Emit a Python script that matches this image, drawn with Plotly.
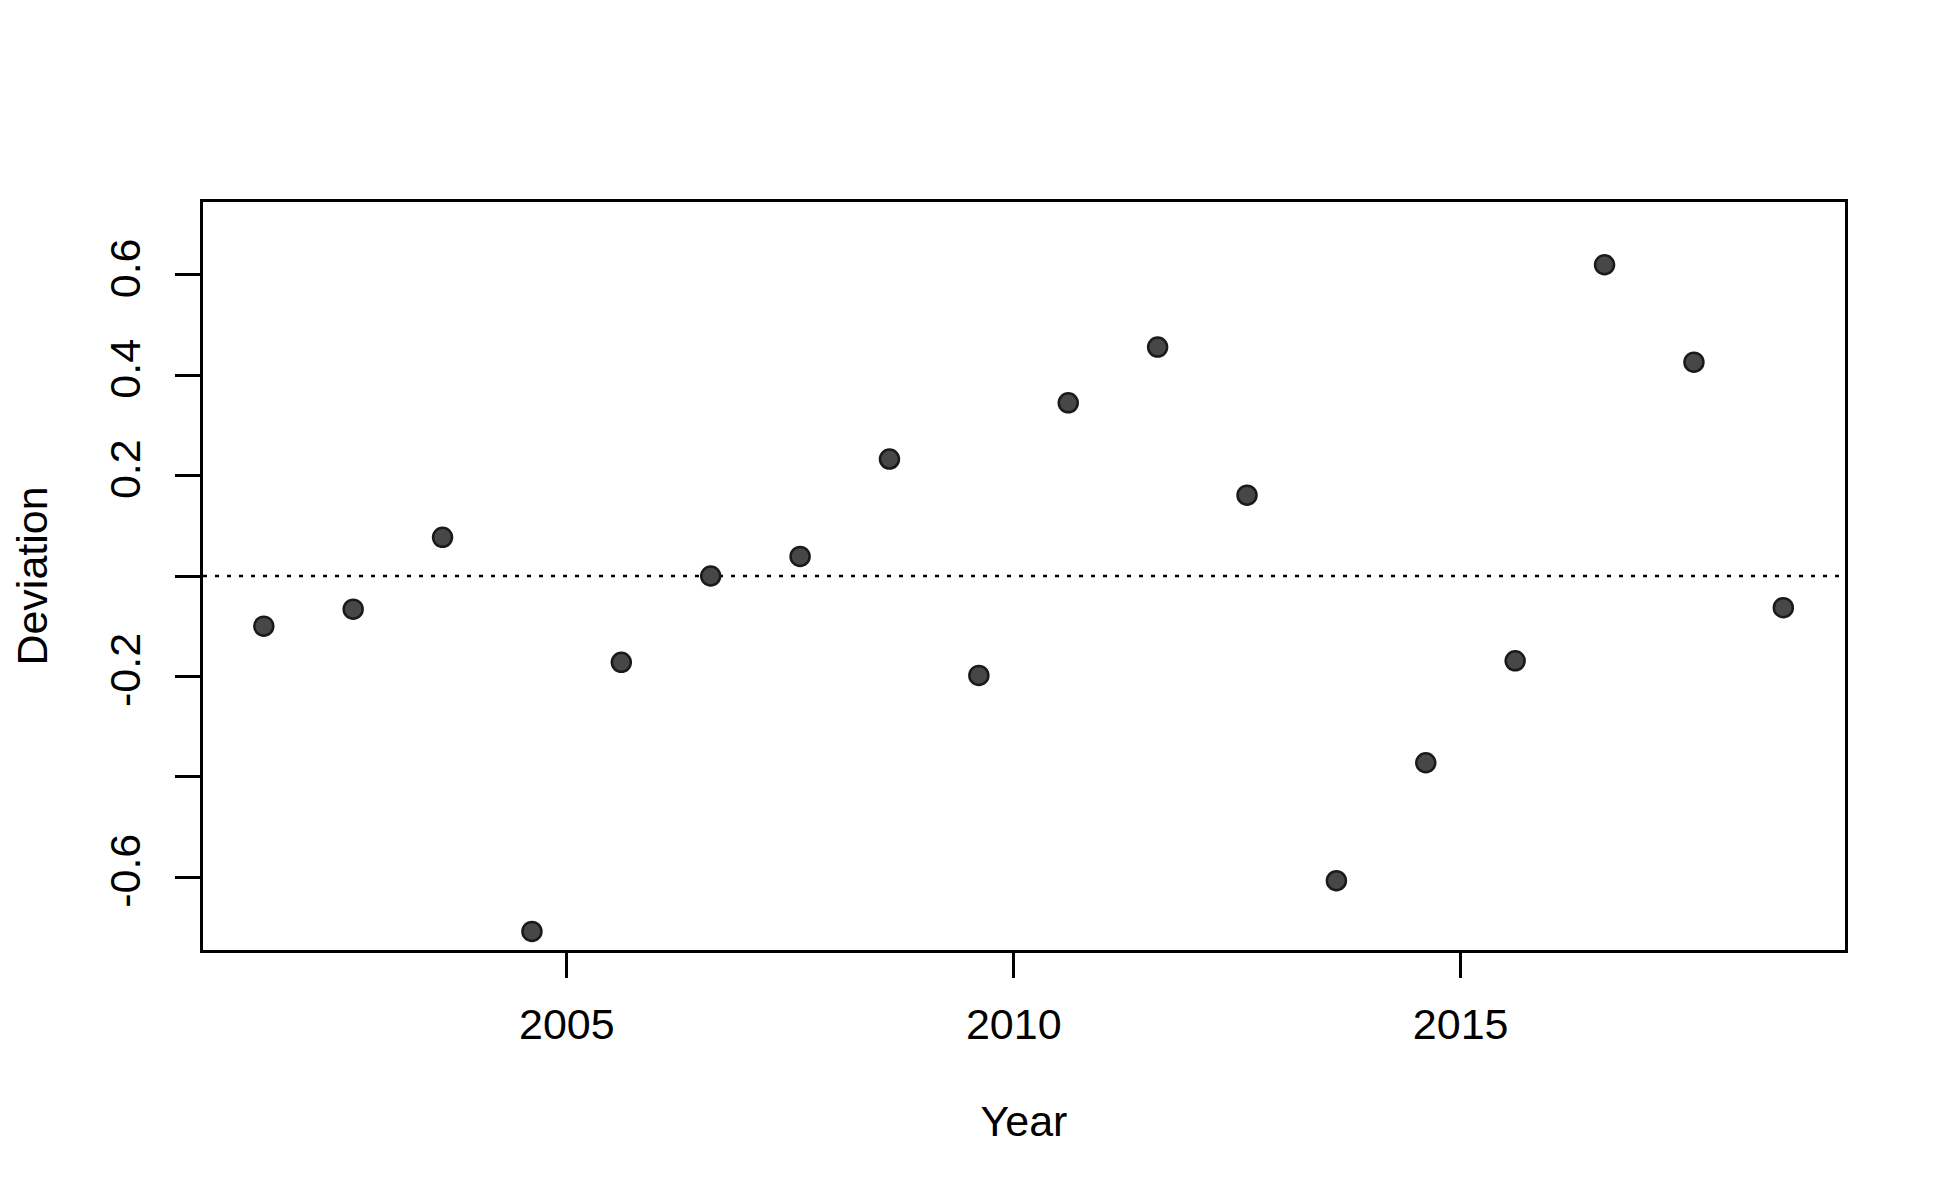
import plotly.graph_objects as go

# --- dados ---
years = [2001.61, 2002.61, 2003.61, 2004.61, 2005.61, 2006.61, 2007.61, 2008.61, 2009.61,
         2010.61, 2011.61, 2012.61, 2013.61, 2014.61, 2015.61, 2016.61, 2017.61, 2018.61]
deviation = [-0.100, -0.066, 0.077, -0.708, -0.172, 0.000, 0.039, 0.233, -0.198,
             0.345, 0.456, 0.161, -0.607, -0.372, -0.169, 0.620, 0.426, -0.063]

x_ticks = [2005, 2010, 2015]
y_ticks = [-0.6, -0.4, -0.2, 0.0, 0.2, 0.4, 0.6]
y_tick_labels = ["-0.6", "", "-0.2", "", "0.2", "0.4", "0.6"]

x_range = [2000.93, 2019.30]
y_range = [-0.745, 0.745]

font = dict(family="Liberation Sans, Arial, sans-serif", size=43, color="black")

fig = go.Figure()

# linha pontilhada em zero
fig.add_trace(go.Scatter(
    x=x_range, y=[0, 0],
    mode="lines",
    line=dict(color="black", width=2.5, dash="4px,8px"),
    hoverinfo="skip",
    showlegend=False,
))

fig.add_trace(go.Scatter(
    x=years, y=deviation,
    mode="markers",
    marker=dict(size=19, color="#474747", line=dict(color="#1a1a1a", width=2.5)),
    showlegend=False,
))

axis_common = dict(
    showgrid=False, zeroline=False,
    showline=True, linecolor="black", linewidth=2.7, mirror=True,
    ticks="outside", ticklen=25, tickwidth=2.7, tickcolor="black",
    tickfont=font,
)

fig.update_xaxes(
    range=x_range, tickvals=x_ticks, ticktext=[str(v) for v in x_ticks],
    title=dict(text="Year", font=font, standoff=59),
    ticklabelstandoff=10,
    **axis_common,
)
fig.update_yaxes(
    range=y_range, tickvals=y_ticks, ticktext=y_tick_labels,
    tickangle=-90,
    title=dict(text="Deviation", font=font, standoff=47),
    ticklabelstandoff=18,
    **axis_common,
)

fig.update_layout(
    width=1950, height=1200,
    margin=dict(l=195, r=113, t=194, b=258),
    paper_bgcolor="white", plot_bgcolor="white",
    font=font,
)

fig.write_html("out.html")
